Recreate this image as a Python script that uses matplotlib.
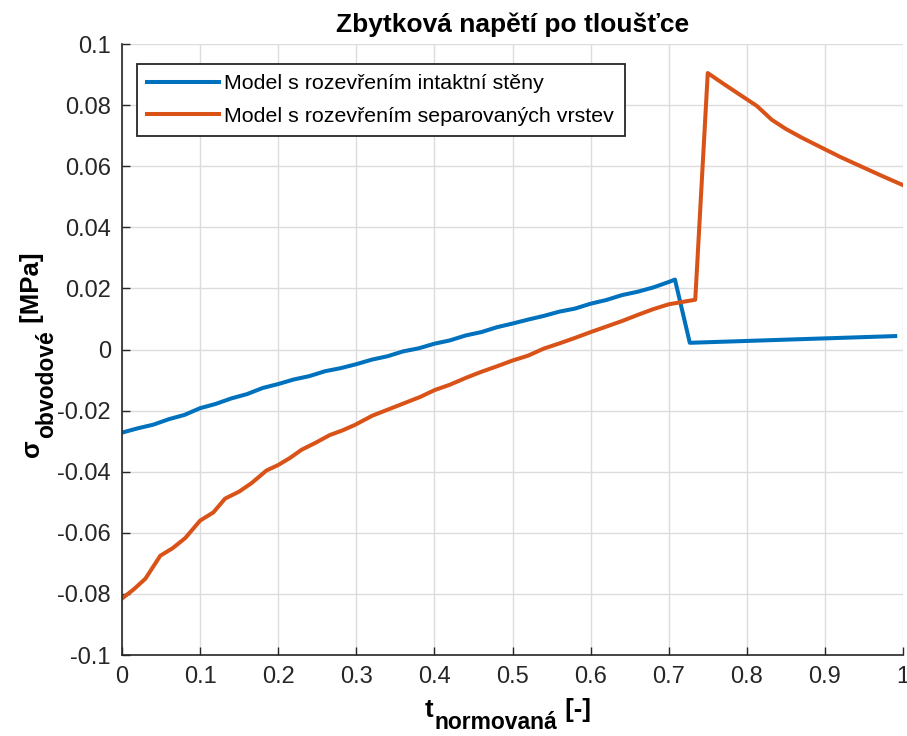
import numpy as np
import matplotlib.pyplot as plt

plt.rcParams['font.family'] = ['Liberation Sans', 'DejaVu Sans']

# Model s rozevřením intaktní stěny
t_intact = [0.00, 0.02, 0.04, 0.06, 0.08, 0.10, 0.12, 0.14, 0.16, 0.18,
            0.20, 0.22, 0.24, 0.26, 0.28, 0.30, 0.32, 0.34, 0.36, 0.38,
            0.40, 0.42, 0.44, 0.46, 0.48, 0.50, 0.52, 0.54, 0.56, 0.58,
            0.60, 0.62, 0.64, 0.66, 0.68, 0.70, 0.708, 0.727, 0.99]
s_intact = [-0.0272, -0.0258, -0.0246, -0.0228, -0.0214, -0.0192, -0.0178, -0.0160, -0.0146, -0.0126,
            -0.0113, -0.0098, -0.0087, -0.0071, -0.0061, -0.0048, -0.0033, -0.0022, -0.0006, 0.0004,
            0.0019, 0.0030, 0.0046, 0.0057, 0.0073, 0.0085, 0.0098, 0.0110, 0.0124, 0.0134,
            0.0150, 0.0162, 0.0178, 0.0189, 0.0203, 0.0221, 0.0229, 0.0022, 0.0044]

# Model s rozevřením separovaných vrstev
t_sep = [0.000, 0.015, 0.030, 0.049, 0.065, 0.081, 0.100, 0.117, 0.132, 0.150,
         0.166, 0.185, 0.200, 0.215, 0.230, 0.248, 0.266, 0.282, 0.298, 0.321,
         0.340, 0.360, 0.382, 0.400, 0.420, 0.441, 0.460, 0.480, 0.500, 0.520,
         0.540, 0.560, 0.580, 0.600, 0.620, 0.640, 0.660, 0.680, 0.700, 0.734,
         0.750, 0.770, 0.790, 0.813, 0.832, 0.850, 0.870, 0.898, 0.920, 0.950,
         0.975, 1.000]
s_sep = [-0.0815, -0.0785, -0.0750, -0.0675, -0.0650, -0.0617, -0.0560, -0.0533, -0.0488, -0.0465,
         -0.0437, -0.0396, -0.0378, -0.0355, -0.0328, -0.0305, -0.0280, -0.0265, -0.0247, -0.0216,
         -0.0197, -0.0177, -0.0155, -0.0133, -0.0115, -0.0092, -0.0073, -0.0055, -0.0036, -0.0020,
         0.0003, 0.0020, 0.0038, 0.0057, 0.0075, 0.0093, 0.0113, 0.0132, 0.0148, 0.0163,
         0.0905, 0.0870, 0.0836, 0.0797, 0.0752, 0.0722, 0.0694, 0.0658, 0.0630, 0.0595,
         0.0566, 0.0538]

labels = ['Model s rozevřením intaktní stěny', 'Model s rozevřením separovaných vrstev']
xticks = np.arange(0, 1.01, 0.1)
yticks = np.arange(-0.1, 0.101, 0.02)

# axis labels as (text, size, subscript?) pieces
xlabel_parts = [('t', 18.5, False), ('normovaná', 16.5, True), (' [-]', 18.5, False)]
ylabel_parts = [('σ', 18.5, False), ('obvodové', 16.5, True), (' [MPa]', 18.5, False)]

axis_col = '#262626'
W, H = 907, 736

fig = plt.figure(figsize=(W / 100, H / 100), dpi=100)
ax = fig.add_axes([0.1345, 0.110, 0.8611, 0.8302])

ax.plot(t_intact, s_intact, color='#0072BD', lw=2.9, label=labels[0])
ax.plot(t_sep, s_sep, color='#D95319', lw=2.9, label=labels[1])

ax.set_xlim(0, 1)
ax.set_ylim(-0.1, 0.1)
ax.set_xticks(xticks)
ax.set_yticks(yticks)
ax.set_xticklabels(['0' if abs(v) < 1e-9 else ('1' if abs(v - 1) < 1e-9 else f'{v:.1f}') for v in xticks])
ax.set_yticklabels(['0' if abs(v) < 1e-9 else f'{v:g}' for v in np.round(yticks, 2)])

ax.grid(True, color='#dcdcdc', lw=1.0)
ax.set_axisbelow(True)
for side in ['top', 'right']:
    ax.spines[side].set_visible(False)
for side in ['left', 'bottom']:
    ax.spines[side].set_color(axis_col)
    ax.spines[side].set_linewidth(1.2)
ax.tick_params(direction='in', length=6, width=1.0, colors=axis_col, labelsize=17, pad=8)

ax.set_title('Zbytková napětí po tloušťce', fontsize=19, fontweight='bold', pad=9)

leg = ax.legend(loc='upper left', bbox_to_anchor=(0.019, 0.968), borderaxespad=0,
                fontsize=15.4, handlelength=3.35, handletextpad=0.25, borderpad=0.49,
                labelspacing=0.64, fancybox=False, framealpha=1, edgecolor=axis_col)
leg.get_frame().set_linewidth(1.3)


def place_label(parts, x0, y0, vertical, sub_drop):
    """Write a label piece by piece (pixels from top-left), lowering subscripts."""
    renderer = fig.canvas.get_renderer()
    pos = x0 if not vertical else y0
    for text, size, is_sub in parts:
        if vertical:
            x = x0 + (sub_drop if is_sub else 0)
            y = pos
        else:
            x = pos
            y = y0 + (sub_drop if is_sub else 0)
        t = fig.text(x / W, 1 - y / H, text, fontsize=size, fontweight='bold', color='black',
                     ha='left', va='baseline', rotation=90 if vertical else 0,
                     rotation_mode='anchor')
        bb = t.get_window_extent(renderer)
        pos = pos - bb.height - 1 if vertical else pos + bb.width + 1


place_label(xlabel_parts, 425, 717, False, 12)
place_label(ylabel_parts, 39, 457, True, 14)

plt.savefig('out.png', dpi=100)
